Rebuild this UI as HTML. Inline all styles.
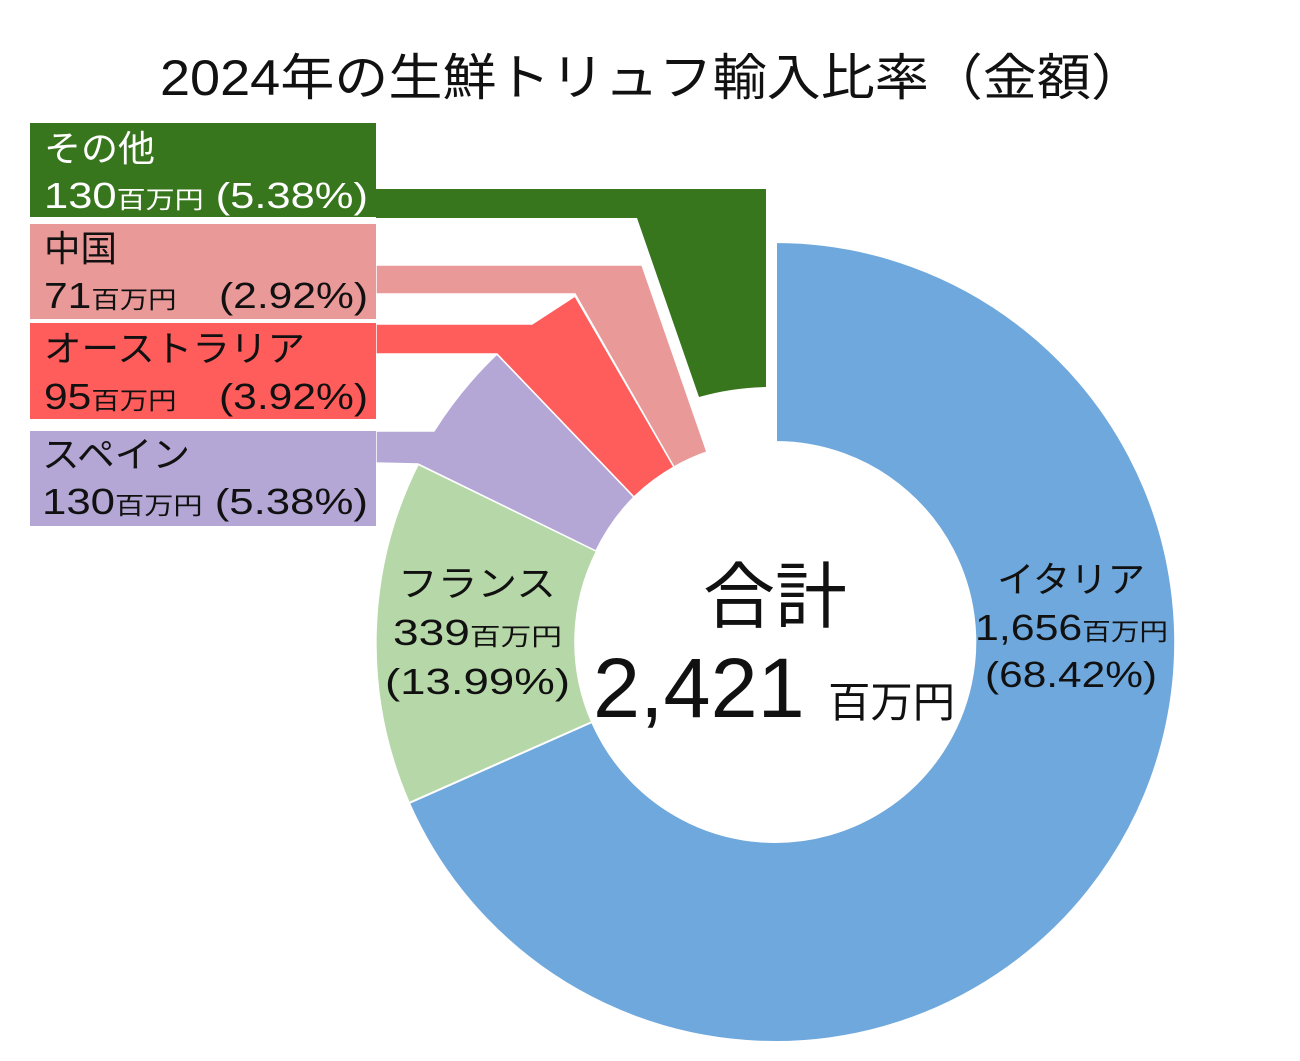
<!DOCTYPE html>
<html><head><meta charset="utf-8"><style>
html,body{margin:0;padding:0;background:#fff}
svg{display:block}
text{font-family:"Liberation Sans","Noto Sans CJK JP",sans-serif}
</style></head><body>
<svg width="1300" height="1061" viewBox="0 0 1300 1061" xmlns="http://www.w3.org/2000/svg">
<rect width="1300" height="1061" fill="#fff"/>
<text x="160" y="95" font-size="50" textLength="985" lengthAdjust="spacingAndGlyphs" fill="#111">2024年の生鮮トリュフ輸入比率（金額）</text>

<path d="M776,242 A400,400 0 1,1 409,803 L592,722 A200,200 0 1,0 776,442 Z" fill="#6fa8dc" stroke="#fff" stroke-width="2"/>
<path d="M409,803 A400,400 0 0,1 418,464 L597,551 A200,200 0 0,0 592,722 Z" fill="#b6d7a8" stroke="#fff" stroke-width="2"/>
<path d="M376,431 L434,431 A400,400 0 0,1 497,354 L634,497 A200,200 0 0,0 596,551 L418,464 L376,463 Z" fill="#b4a7d6" stroke="#fff" stroke-width="1.5"/>
<path d="M376,324 L532,324 L575,296 L674,467 A200,200 0 0,0 634,497 L497,354 L376,354 Z" fill="#ff5c5c" stroke="#fff" stroke-width="1.5"/>
<path d="M376,265 L642,265 L707,452 A200,200 0 0,0 674,467 L575,294 L376,294 Z" fill="#ea9999" stroke="#fff" stroke-width="1.5"/>
<path d="M376,189 L766,189 L766,387 A260,260 0 0,0 699,397 L637,218 L376,218 Z" fill="#38761d"/>

<rect x="30" y="123" width="346" height="94" fill="#38761d"/>
<rect x="30" y="224" width="346" height="95" fill="#ea9999"/>
<rect x="30" y="323" width="346" height="96" fill="#ff5c5c"/>
<rect x="30" y="431" width="346" height="95" fill="#b4a7d6"/>

<g font-size="36">
<text x="44" y="161" fill="#fff" textLength="111" lengthAdjust="spacingAndGlyphs">その他</text>
<text x="44" y="208" fill="#fff" textLength="324" lengthAdjust="spacingAndGlyphs">130<tspan font-size="24">百万円</tspan> (5.38%)</text>
<text x="44" y="261" fill="#111" textLength="73" lengthAdjust="spacingAndGlyphs">中国</text>
<text x="44" y="308" fill="#111" textLength="324" lengthAdjust="spacingAndGlyphs">71<tspan font-size="24">百万円</tspan>　(2.92%)</text>
<text x="44" y="361" fill="#111" textLength="261" lengthAdjust="spacingAndGlyphs">オーストラリア</text>
<text x="44" y="409" fill="#111" textLength="324" lengthAdjust="spacingAndGlyphs">95<tspan font-size="24">百万円</tspan>　(3.92%)</text>
<text x="42" y="467" fill="#111" textLength="148" lengthAdjust="spacingAndGlyphs">スペイン</text>
<text x="42" y="514" fill="#111" textLength="326" lengthAdjust="spacingAndGlyphs">130<tspan font-size="24">百万円</tspan> (5.38%)</text>

<text x="398" y="596" fill="#111" textLength="158" lengthAdjust="spacingAndGlyphs">フランス</text>
<text x="393" y="645" fill="#111" textLength="169" lengthAdjust="spacingAndGlyphs">339<tspan font-size="24">百万円</tspan></text>
<text x="385" y="694" fill="#111" textLength="185" lengthAdjust="spacingAndGlyphs">(13.99%)</text>

<text x="997" y="592" fill="#111" textLength="148" lengthAdjust="spacingAndGlyphs">イタリア</text>
<text x="975" y="640" fill="#111" textLength="193" lengthAdjust="spacingAndGlyphs">1,656<tspan font-size="24">百万円</tspan></text>
<text x="985" y="687" fill="#111" textLength="172" lengthAdjust="spacingAndGlyphs">(68.42%)</text>
</g>

<text x="703" y="622" font-size="72" fill="#111" textLength="144" lengthAdjust="spacingAndGlyphs">合計</text>
<text x="593" y="717" font-size="84" fill="#111" textLength="362" lengthAdjust="spacingAndGlyphs">2,421 <tspan font-size="42">百万円</tspan></text>
</svg>
</body></html>
